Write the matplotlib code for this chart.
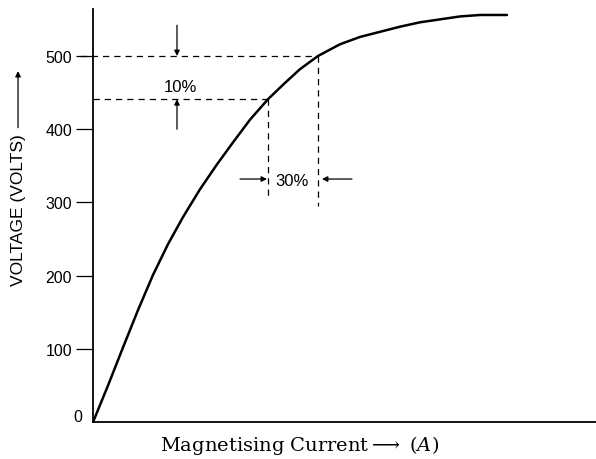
import matplotlib
matplotlib.use("Agg")
import matplotlib.pyplot as plt

plt.rcParams['font.family'] = ['Liberation Sans', 'DejaVu Sans']
plt.rcParams['mathtext.fontset'] = 'dejavuserif'

# magnetisation curve (current in arbitrary units, volts)
current = [0, 0.15, 0.30, 0.45, 0.60, 0.75, 0.90, 1.07, 1.24, 1.40, 1.57, 1.75,
           1.91, 2.07, 2.25, 2.47, 2.67, 2.87, 3.07, 3.27, 3.47, 3.67, 3.87, 4.14]
voltage = [0, 50, 102, 153, 201, 243, 280, 318, 352, 382, 413, 441,
           462, 482, 500, 516, 526, 533, 540, 546, 550, 554, 556, 556]

yticks = [100, 200, 300, 400, 500]

rated_v = 500
low_v = 441
rated_i = 2.25
low_i = 1.75

fig = plt.figure(figsize=(5.96, 4.60), dpi=100)
ax = fig.add_axes([0.156, 0.080, 0.844, 0.898])

ax.plot(current, voltage, color='black', lw=1.8, solid_capstyle='round',
        solid_joinstyle='round')

dash = dict(color='black', lw=0.9, dashes=(5, 4))
ax.plot([-0.13, rated_i], [rated_v, rated_v], clip_on=False, **dash)
ax.plot([0, low_i], [low_v, low_v], **dash)
ax.plot([low_i, low_i], [low_v, 305], **dash)
ax.plot([rated_i, rated_i], [rated_v, 295], **dash)

# 10 % arrows
arr = dict(arrowstyle='-|>', color='black', lw=0.9, mutation_scale=8,
           shrinkA=0, shrinkB=0)
ax.annotate('', xy=(0.84, rated_v), xytext=(0.84, 542), arrowprops=arr)
ax.annotate('', xy=(0.84, low_v), xytext=(0.84, 400), arrowprops=arr)
ax.text(0.87, 458, '10%', ha='center', va='center', fontsize=12)

# 30 % arrows
ax.annotate('', xy=(low_i - 0.01, 332), xytext=(1.47, 332), arrowprops=arr)
ax.annotate('', xy=(rated_i + 0.04, 332), xytext=(2.59, 332), arrowprops=arr)
ax.text(1.99, 330, '30%', ha='center', va='center', fontsize=12)

ax.set_xlim(0, 5.03)
ax.set_ylim(0, 564)
ax.set_yticks(yticks)
ax.set_yticklabels([str(v) for v in yticks], fontsize=11.5)
ax.text(-0.11, 8, '0', ha='right', va='center', fontsize=11.5)
ax.set_xticks([])
ax.tick_params(axis='y', direction='out', length=12, width=0.9, pad=3)

for s in ['top', 'right']:
    ax.spines[s].set_visible(False)
ax.spines['left'].set_linewidth(1.3)
ax.spines['bottom'].set_linewidth(1.3)

# y label with its long arrow
ax.text(-0.149, 0.516, 'VOLTAGE (VOLTS)', rotation=90, ha='center',
        va='center', fontsize=12.5, transform=ax.transAxes)
ax.annotate('', xy=(-0.149, 0.85), xytext=(-0.149, 0.713),
            xycoords='axes fraction', textcoords='axes fraction',
            arrowprops=dict(arrowstyle='-|>', color='black', lw=0.9,
                            mutation_scale=8, shrinkA=0, shrinkB=0))

ax.set_xlabel(r'Magnetising Current$\longrightarrow$ $(A)$',
              fontsize=14, family='DejaVu Serif')
ax.xaxis.set_label_coords(0.41, -0.025)
ax.xaxis.label.set_va('top')

fig.savefig('out.png', dpi=100)
